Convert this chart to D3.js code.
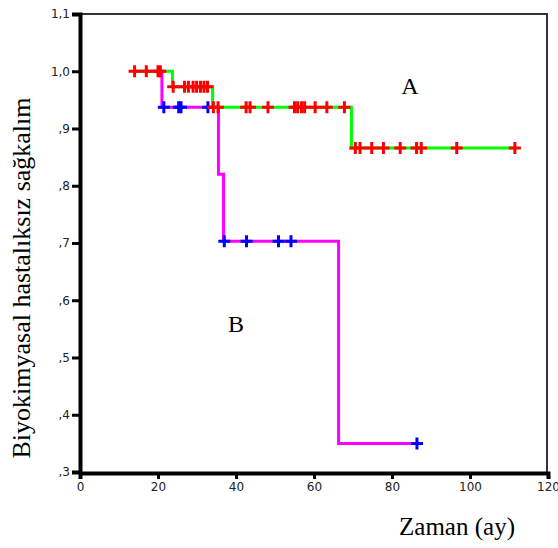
<!DOCTYPE html>
<html>
<head>
<meta charset="utf-8">
<script src="https://cdn.jsdelivr.net/npm/d3@7"></script>
<style>
  body { margin: 0; background: #fff; }
  svg { display: block; }
</style>
</head>
<body>
<svg id="chart" width="558" height="548"></svg>
<script>
// survival steps
const stepTimesA = [14, 23.7, 34, 69.6];
const stepSurvA = [1.0, 0.973, 0.937, 0.866];
const endA = 112;
const censorA = [14, 17, 20, 20.6, 23.9, 26.8, 27.8, 29, 29.9, 30.9, 31.8, 32.7,
    34.2, 35.4, 42.6, 43.6, 48.2, 55, 55.8, 56.8, 57.6, 60.3, 63.3, 67.8,
    70.6, 71.8, 74.8, 77.8, 82.1, 86.3, 87.5, 96.6, 111.5];

const stepTimesB = [14, 21, 35.5, 36.8, 66.3];
const stepSurvB = [1.0, 0.937, 0.82, 0.703, 0.35];
const endB = 86.5;
const censorB = [21.5, 25.3, 25.9, 32.8, 37, 42.7, 50.9, 54.1, 86.4];

const xTicks = [0, 20, 40, 60, 80, 100, 120];
const yTicks = [0.3, 0.4, 0.5, 0.6, 0.7, 0.8, 0.9, 1.0, 1.1];

const svg = d3.select('#chart');
const x = d3.scaleLinear().domain([0, 120]).range([80, 548]);
const y = d3.scaleLinear().domain([0.3, 1.1]).range([472, 14]);

// frame (top + right)
svg.append('path')
    .attr('d', 'M' + x(0) + ',' + y(1.1) + 'H' + (x(120) - 1) + 'V' + y(0.3))
    .attr('fill', 'none')
    .attr('stroke', '#333')
    .attr('stroke-width', 2);

function fmtY(v) {
    let s = v.toFixed(1).replace('.', ',');
    if (s[0] === '0') s = s.slice(1);
    return s;
}

const yAxis = svg.append('g')
    .attr('transform', 'translate(' + x(0) + ',0)')
    .call(d3.axisLeft(y).tickValues(yTicks).tickFormat(fmtY).tickSizeOuter(0).tickSize(8));
const xAxis = svg.append('g')
    .attr('transform', 'translate(0,' + (y(0.3) + 1) + ')')
    .call(d3.axisBottom(x).tickValues(xTicks).tickSizeOuter(0).tickSize(6));

[yAxis, xAxis].forEach(g => {
    g.select('.domain').attr('stroke', '#000').attr('stroke-width', 4);
    g.selectAll('.tick line').attr('stroke', '#000').attr('stroke-width', 3);
    g.selectAll('.tick text')
        .attr('font-family', 'DejaVu Sans')
        .attr('font-size', 12)
        .attr('fill', '#222');
});
yAxis.selectAll('.tick text').attr('x', -10);
xAxis.selectAll('.tick text').attr('y', 9);

function survAt(times, surv, t) {
    let s = surv[0];
    for (let i = 0; i < times.length; i++) {
        if (times[i] <= t) s = surv[i];
    }
    return s;
}

const line = d3.line()
    .x(d => x(d[0]))
    .y(d => y(d[1]))
    .curve(d3.curveStepAfter);

function drawCurve(times, surv, end, color) {
    const pts = times.map((t, i) => [t, surv[i]]);
    pts.push([end, surv[surv.length - 1]]);
    svg.append('path')
        .datum(pts)
        .attr('d', line)
        .attr('fill', 'none')
        .attr('stroke', color)
        .attr('stroke-width', 3);
}

function drawCensor(times, surv, cens, color) {
    svg.append('g').selectAll('path')
        .data(cens)
        .enter()
        .append('path')
        .attr('d', t => {
            const cx = x(t), cy = y(survAt(times, surv, t));
            return 'M' + (cx - 6) + ',' + cy + 'H' + (cx + 6) +
                'M' + cx + ',' + (cy - 6) + 'V' + (cy + 6);
        })
        .attr('stroke', color)
        .attr('stroke-width', 3)
        .attr('fill', 'none');
}

drawCurve(stepTimesB, stepSurvB, endB, '#ff00ff');
drawCurve(stepTimesA, stepSurvA, endA, '#00ff00');
drawCensor(stepTimesB, stepSurvB, censorB, '#0000ff');
drawCensor(stepTimesA, stepSurvA, censorA, '#ff0000');

// labels
svg.append('text')
    .attr('x', 410).attr('y', 94)
    .attr('text-anchor', 'middle')
    .attr('font-family', 'Liberation Serif')
    .attr('font-size', 24)
    .text('A');
svg.append('text')
    .attr('x', 236).attr('y', 332)
    .attr('text-anchor', 'middle')
    .attr('font-family', 'Liberation Serif')
    .attr('font-size', 24)
    .text('B');

svg.append('text')
    .attr('x', 457).attr('y', 535)
    .attr('text-anchor', 'middle')
    .attr('font-family', 'Liberation Serif')
    .attr('font-size', 25)
    .text('Zaman (ay)');

svg.append('text')
    .attr('transform', 'translate(30,278) rotate(-90)')
    .attr('text-anchor', 'middle')
    .attr('font-family', 'Liberation Serif')
    .attr('font-size', 26)
    .text('Biyokimyasal hastalıksız sağkalım');
</script>
</body>
</html>
